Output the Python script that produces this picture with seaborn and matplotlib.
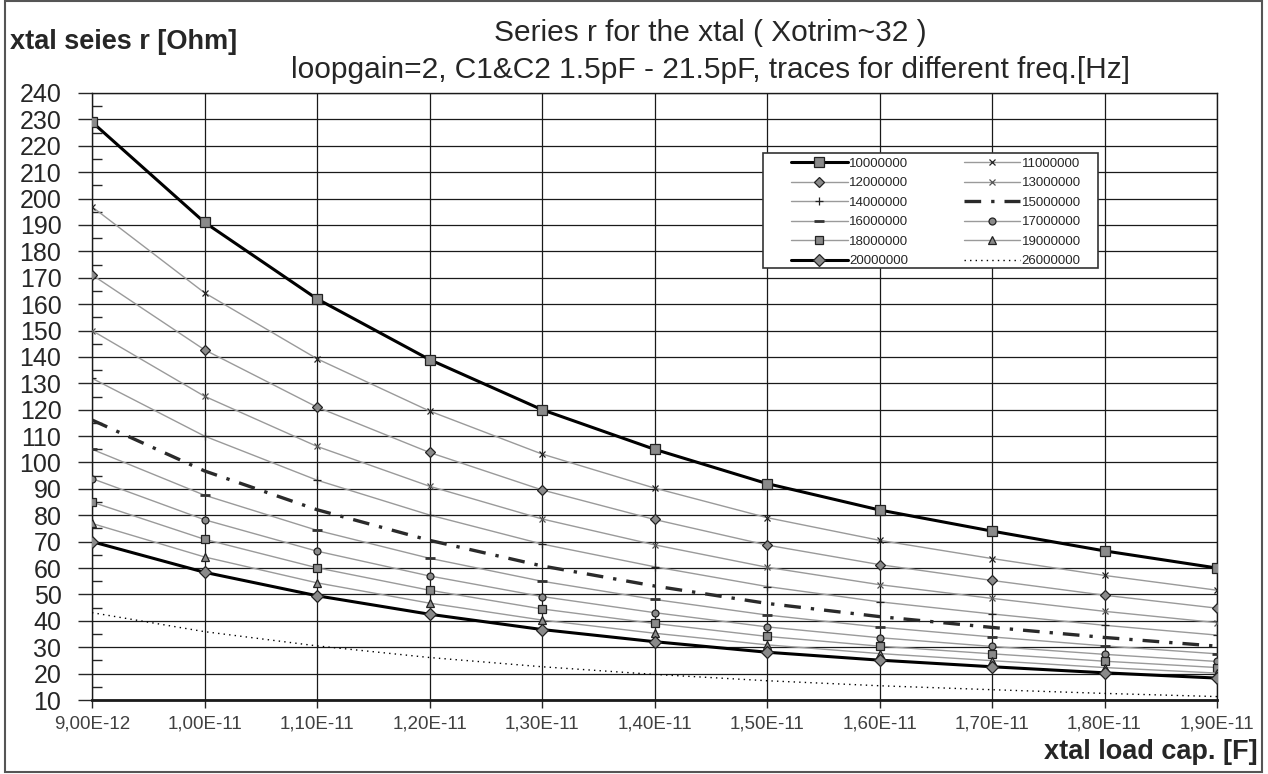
import numpy as np
import pandas as pd
import matplotlib
matplotlib.use("Agg")
import matplotlib.pyplot as plt
import matplotlib.ticker as mticker
from matplotlib.patches import Rectangle
import seaborn as sns

sns.set_style("white")
plt.rcParams['font.family'] = ['Liberation Sans', 'DejaVu Sans']

# load capacitance [F]
load_cap = [9.0e-12, 1.0e-11, 1.1e-11, 1.2e-11, 1.3e-11, 1.4e-11,
            1.5e-11, 1.6e-11, 1.7e-11, 1.8e-11, 1.9e-11]

# series r [Ohm] per frequency
r_10M = [229.0, 191.0, 162.0, 139.0, 120.0, 105.0, 92.0, 82.0, 74.0, 66.5, 60.0]
r_11M = [196.9, 164.3, 139.3, 119.5, 103.2, 90.3, 79.1, 70.5, 63.6, 57.2, 51.6]
r_12M = [171.1, 142.7, 121.0, 103.8, 89.6, 78.4, 68.7, 61.3, 55.3, 49.7, 44.8]
r_13M = [150.0, 125.1, 106.1, 91.0, 78.6, 68.8, 60.3, 53.7, 48.5, 43.6, 39.3]
r_14M = [131.9, 110.0, 93.3, 80.1, 69.1, 60.5, 53.0, 47.2, 42.6, 38.3, 34.6]
r_15M = [116.1, 96.8, 82.1, 70.5, 60.8, 53.2, 46.6, 41.6, 37.5, 33.7, 30.4]
r_16M = [105.0, 87.6, 74.3, 63.7, 55.0, 48.1, 42.2, 37.6, 33.9, 30.5, 27.5]
r_17M = [93.9, 78.3, 66.4, 57.0, 49.2, 43.1, 37.7, 33.6, 30.3, 27.3, 24.6]
r_18M = [85.0, 70.9, 60.1, 51.6, 44.5, 39.0, 34.1, 30.4, 27.5, 24.7, 22.3]
r_19M = [76.9, 64.2, 54.4, 46.7, 40.3, 35.3, 30.9, 27.6, 24.9, 22.3, 20.2]
r_20M = [70.0, 58.4, 49.5, 42.5, 36.7, 32.1, 28.1, 25.1, 22.6, 20.3, 18.3]
r_26M = [43.1, 35.9, 30.5, 26.1, 22.6, 19.7, 17.3, 15.4, 13.9, 12.5, 11.3]

freqs = ["10000000", "11000000", "12000000", "13000000", "14000000", "15000000",
         "16000000", "17000000", "18000000", "19000000", "20000000", "26000000"]
series = [r_10M, r_11M, r_12M, r_13M, r_14M, r_15M,
          r_16M, r_17M, r_18M, r_19M, r_20M, r_26M]

df = pd.concat([pd.DataFrame({'cap': load_cap, 'r': vals, 'freq': f})
                for f, vals in zip(freqs, series)], ignore_index=True)

thin = '#9a9a9a'
mk_fill = '#8a8a8a'
styles = {
    "10000000": dict(color='black', lw=2.2, marker='s', ms=6.5),
    "11000000": dict(color=thin, lw=1.0, marker='x', ms=5, mec='#222222'),
    "12000000": dict(color=thin, lw=1.0, marker='D', ms=5),
    "13000000": dict(color=thin, lw=1.0, marker='x', ms=5, mec='#555555'),
    "14000000": dict(color=thin, lw=1.0, marker='+', ms=6, mec='#222222'),
    "15000000": dict(color='#2a2a2a', lw=2.4, ls=(0, (5, 3, 1, 3))),
    "16000000": dict(color=thin, lw=1.0, marker='_', ms=7, mec='#333333', mew=2),
    "17000000": dict(color=thin, lw=1.0, marker='o', ms=5),
    "18000000": dict(color=thin, lw=1.0, marker='s', ms=6),
    "19000000": dict(color=thin, lw=1.0, marker='^', ms=6),
    "20000000": dict(color='black', lw=2.2, marker='D', ms=6),
    "26000000": dict(color='black', lw=1.0, ls=(0, (1, 3))),
}

fig = plt.figure(figsize=(12.68, 7.74), dpi=100)
ax = fig.add_axes([92 / 1268, 74 / 774, 1125 / 1268, 607 / 774])

for f in freqs:
    st = dict(styles[f])
    kw = dict(color=st.pop('color'), linewidth=st.pop('lw'))
    if 'ls' in st:
        kw['linestyle'] = st.pop('ls')
    if 'marker' in st:
        kw['marker'] = st.pop('marker')
        kw['markersize'] = st.pop('ms')
        kw['markerfacecolor'] = mk_fill
        kw['markeredgecolor'] = st.pop('mec', '#222222')
        kw['markeredgewidth'] = st.pop('mew', 0.9)
    sns.lineplot(data=df[df['freq'] == f], x='cap', y='r', ax=ax,
                 label=f, zorder=3, **kw)

ax.set_xlim(9e-12, 1.9e-11)
ax.set_ylim(10, 240)
ax.xaxis.set_major_locator(mticker.FixedLocator(load_cap))
ax.xaxis.set_major_formatter(mticker.FuncFormatter(
    lambda v, p: f"{v:.2E}".replace('.', ',')))
ax.yaxis.set_major_locator(mticker.MultipleLocator(10))
ax.yaxis.set_minor_locator(mticker.MultipleLocator(5))

ax.set_axisbelow(True)
ax.grid(True, which='major', color='#1a1a1a', linewidth=0.9)
for s in ax.spines.values():
    s.set_color('#1a1a1a')
    s.set_linewidth(1.0)
ax.spines['bottom'].set_linewidth(2.0)

ax.tick_params(axis='y', which='major', direction='out', length=10, width=1,
               labelsize=18, pad=12, left=True)
ax.tick_params(axis='y', which='minor', direction='in', length=7, width=1, left=True)
ax.tick_params(axis='x', which='major', direction='out', length=6, width=1,
               labelsize=13.5, labelcolor='#404040', pad=5, bottom=True)
ax.set_xlabel('')
ax.set_ylabel('')

# legend: two columns filled row-wise like the original
handles, labels = ax.get_legend_handles_labels()
order = [0, 2, 4, 6, 8, 10, 1, 3, 5, 7, 9, 11]
ax.legend([handles[i] for i in order], [labels[i] for i in order],
          ncol=2, loc='upper left', bbox_to_anchor=(0.619, 0.898),
          frameon=False, fontsize=9.5, handlelength=4.3, handletextpad=0.1,
          labelspacing=0.55, columnspacing=4.2, borderaxespad=0, borderpad=0.2)
ax.add_patch(Rectangle((0.596, 0.712), 0.298, 0.189, transform=ax.transAxes,
                       facecolor='white', edgecolor='#333333', lw=1.2, zorder=4.5))

fig.text(0.56, 1 - 33 / 774, 'Series r for the xtal ( Xotrim~32 )',
         ha='center', va='center', fontsize=21.5)
fig.text(0.56, 1 - 70 / 774,
         'loopgain=2, C1&C2 1.5pF - 21.5pF, traces for different freq.[Hz]',
         ha='center', va='center', fontsize=21.5)
fig.text(10 / 1268, 1 - 42 / 774, 'xtal seies r [Ohm]', ha='left', va='center',
         fontsize=19.5, fontweight='bold')
fig.text(1258 / 1268, 1 - 752 / 774, 'xtal load cap. [F]', ha='right', va='center',
         fontsize=19.5, fontweight='bold')

fig.patches.append(Rectangle((5 / 1268, 2 / 774), 1257 / 1268, 771 / 774,
                             transform=fig.transFigure, fill=False,
                             edgecolor='#555555', lw=1.5))

fig.savefig('out.png', dpi=100)
